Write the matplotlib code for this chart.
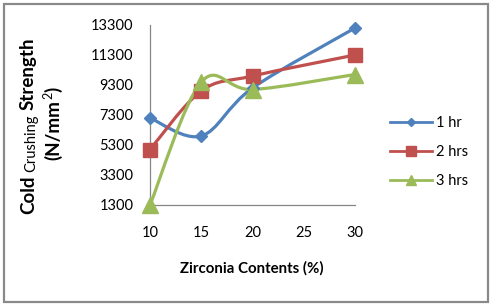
import matplotlib
matplotlib.use("Agg")
import matplotlib.pyplot as plt
import numpy as np
from matplotlib.path import Path
from matplotlib.patches import PathPatch, Rectangle
from matplotlib.lines import Line2D

plt.rcParams['font.family'] = ['Lato', 'DejaVu Sans']

# ---- data ----
zirconia = [10, 15, 20, 30]
hr1 = [7100, 5900, 9100, 13100]
hr2 = [5000, 8900, 9900, 11300]
hr3 = [1300, 9500, 9000, 10000]
series_labels = ["1 hr", "2 hrs", "3 hrs"]
x_ticks = [10, 15, 20, 25, 30]
y_ticks = [1300, 3300, 5300, 7300, 9300, 11300, 13300]

colors = ["#4F81BD", "#C0504D", "#9BBB59"]
markers = ["D", "s", "^"]
msizes = [6.2, 10, 11]

W, H = 492, 306
fig = plt.figure(figsize=(W / 100, H / 100), dpi=100)
ax = fig.add_axes([150 / W, 1 - 205 / H, 205 / W, 180 / H])


def smooth_path(xs, ys):
    pts = np.column_stack([xs, ys]).astype(float)
    n = len(pts)
    verts = [pts[0]]
    codes = [Path.MOVETO]
    for i in range(n - 1):
        p0 = pts[i - 1] if i > 0 else pts[i]
        p1 = pts[i]
        p2 = pts[i + 1]
        p3 = pts[i + 2] if i + 2 < n else pts[i + 1]
        c1 = p1 + (p2 - p0) / 6.0
        c2 = p2 - (p3 - p1) / 6.0
        verts += [c1, c2, p2]
        codes += [Path.CURVE4] * 3
    return Path(verts, codes)


for ys, c, m, ms in zip([hr1, hr2, hr3], colors, markers, msizes):
    patch = PathPatch(smooth_path(zirconia, ys), facecolor='none', edgecolor=c,
                      lw=2.3, transform=ax.transData, clip_on=False,
                      capstyle='round', joinstyle='round', zorder=2)
    ax.add_patch(patch)
    ax.plot(zirconia, ys, linestyle='none', marker=m, markersize=ms, color=c,
            markeredgecolor=c, clip_on=False, zorder=3)

ax.set_xlim(10, 30)
ax.set_ylim(1300, 13300)
ax.set_xticks(x_ticks)
ax.set_yticks(y_ticks)
ax.tick_params(axis='both', length=0, labelsize=10.5, colors='black')
ax.tick_params(axis='y', pad=12)
ax.tick_params(axis='x', pad=15)
for s in ['top', 'right']:
    ax.spines[s].set_visible(False)
for s in ['left', 'bottom']:
    ax.spines[s].set_color('#868686')
    ax.spines[s].set_linewidth(0.9)
ax.patch.set_alpha(0)

fig.text(252 / W, 1 - 268 / H, "Zirconia Contents (%)", ha='center', va='center',
         fontsize=10.8, fontweight='bold')

# ---- y label built from pieces ----
renderer = fig.canvas.get_renderer()


def stack(pieces, xbase, ycenter):
    texts = []
    total = 0
    for s, wt, sz, dx, gap in pieces:
        t = fig.text(0, 0, s, rotation=90, rotation_mode='anchor', ha='left',
                     va='baseline', fontsize=sz, fontweight=wt)
        bb = t.get_window_extent(renderer)
        texts.append((t, bb.height, dx, gap))
        total += bb.height + gap
    y = (H - ycenter) - total / 2
    for t, h, dx, gap in texts:
        t.set_position(((xbase + dx) / W, y / H))
        y += h + gap


stack([("Cold", 'bold', 13.5, 0, 4),
       ("Crushing", 'normal', 10.5, 1.5, 4),
       ("Strength", 'bold', 13.5, 0, 0)], 34, 126)
stack([("(N/mm", 'bold', 13.5, 0, 0.5),
       ("2", 'normal', 9, -7, 0.5),
       (")", 'bold', 13.5, 0, 0)], 59, 123)

# ---- legend ----
handles = [Line2D([], [], color=c, marker=m, markersize=ms * 0.65, lw=2)
           for c, m, ms in zip(colors, markers, msizes)]
fig.legend(handles, series_labels, loc='center left',
           bbox_to_anchor=(390 / W, 1 - 152 / H), frameon=False, fontsize=10.5,
           handlelength=2.85, handletextpad=0.3, labelspacing=1.05,
           borderaxespad=0, borderpad=0)

fig.patches.append(Rectangle((4 / W, 4 / H), 484 / W, 298 / H, transform=fig.transFigure,
                             fill=False, edgecolor='#898989', lw=1.6))

fig.savefig("out.png", dpi=100)
